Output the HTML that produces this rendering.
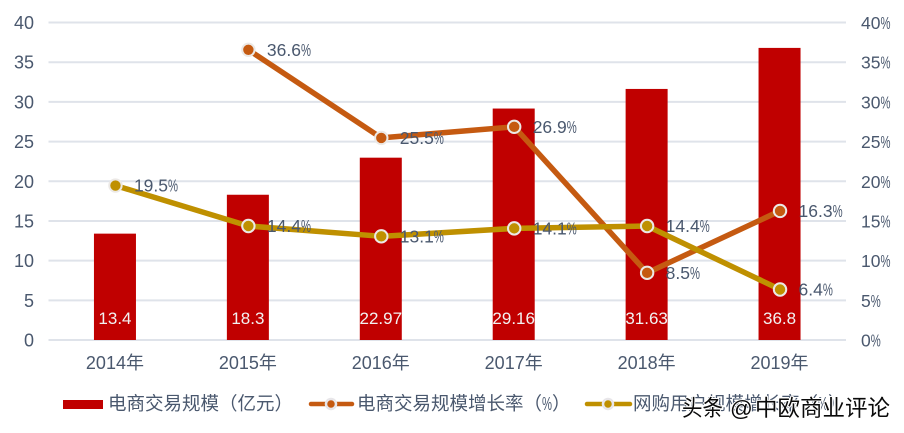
<!DOCTYPE html>
<html lang="zh">
<head>
<meta charset="utf-8">
<style>
html,body{margin:0;padding:0;background:#fff;width:904px;height:433px;overflow:hidden}
svg{display:block}
text{font-family:"Liberation Sans","Noto Sans CJK SC",sans-serif;fill:#4a586e}
</style>
</head>
<body>
<svg id="chart" width="904" height="433" viewBox="0 0 904 433" xmlns="http://www.w3.org/2000/svg">
  <g id="grid"></g>
  <g id="bars"></g>
  <g id="lines"></g>
  <g id="axes"></g>
  <g>
    <g>
      <rect x="63" y="400" width="40" height="9" fill="#c00000"/>
      <text x="108" y="410" font-size="18.5">电商交易规模（亿元）</text>
    </g>
    <g>
      <line x1="311" y1="404" x2="352" y2="404" stroke="#c55a11" stroke-width="4.5" stroke-linecap="round"/>
      <circle cx="331" cy="404" r="5" fill="#c55a11" stroke="#e8e6e9" stroke-width="2.5"/>
      <text x="357" y="410" font-size="18.5">电商交易规模增长率（<tspan textLength="10" lengthAdjust="spacingAndGlyphs">%</tspan>）</text>
    </g>
    <g>
      <line x1="587" y1="404" x2="630" y2="404" stroke="#bf9000" stroke-width="4.5" stroke-linecap="round"/>
      <circle cx="608" cy="404" r="5" fill="#bf9000" stroke="#e8e6e9" stroke-width="2.5"/>
      <text x="633" y="410" font-size="18.5">网购用户规模增长率（<tspan textLength="10" lengthAdjust="spacingAndGlyphs">%</tspan>）</text>
    </g>
  </g>
  <text y="416" font-size="22.5" style="fill:#0a0a0a;stroke:#fff;stroke-width:2px;paint-order:stroke;stroke-linejoin:round"><tspan x="682" textLength="41" lengthAdjust="spacingAndGlyphs">头条</tspan><tspan x="730">@</tspan><tspan x="755">中欧商业评论</tspan></text>
</svg>
<script>
const categories = ['2014年','2015年','2016年','2017年','2018年','2019年'];
const volume = [13.4,18.3,22.97,29.16,31.63,36.8];
const volumeGrowth = [null,36.6,25.5,26.9,8.5,16.3];
const onlineGrowth = [19.5,14.4,13.1,14.1,14.4,6.4];
const leftTicks = [0,5,10,15,20,25,30,35,40];
const rightTicks = [0,5,10,15,20,25,30,35,40];

const NS = 'http://www.w3.org/2000/svg';
const plotLeft = 48.5, plotRight = 846, plotBottom = 340, plotTop = 22.5;
const yLeft = v => plotBottom - (v / 40) * (plotBottom - plotTop);
const yRight = v => plotBottom - (v / 40) * (plotBottom - plotTop) + 0.3;
const band = (plotRight - plotLeft) / categories.length;
const xPos = i => plotLeft + band * (i + 0.5);

function make(tag, attrs, parent, content) {
  const el = document.createElementNS(NS, tag);
  for (const k in attrs) el.setAttribute(k, attrs[k]);
  if (content !== undefined) el.textContent = content;
  parent.appendChild(el);
  return el;
}
function pctLabel(parent, x, y, value, size, anchor, pctW) {
  const t = make('text', {x: x, y: y, 'font-size': size, 'text-anchor': anchor}, parent, value);
  make('tspan', {textLength: pctW, lengthAdjust: 'spacingAndGlyphs'}, t, '%');
  return t;
}

const gridG = document.getElementById('grid');
const barsG = document.getElementById('bars');
const linesG = document.getElementById('lines');
const axesG = document.getElementById('axes');

leftTicks.forEach(v => {
  const g = make('line', {x1: plotLeft, x2: plotRight, y1: yLeft(v), y2: yLeft(v), stroke: '#dfe3ea', 'stroke-width': 2}, gridG);
  
  
  const t = make('text', {x: 34, y: yLeft(v) + 6.5, 'font-size': 18, 'text-anchor': 'end'}, axesG, v);
  
  
});
rightTicks.forEach(v => {
  const t = pctLabel(axesG, 861, yRight(v) + 6.2, v, 17.5, 'start', 10);
  
  
});
categories.forEach((c, i) => {
  const t = make('text', {x: xPos(i), y: 369, 'font-size': 18, 'text-anchor': 'middle'}, axesG, c);
  
  
});

const barW = 42;
volume.forEach((v, i) => {
  const r = make('rect', {x: xPos(i) - barW / 2, y: yLeft(v), width: barW, height: plotBottom - yLeft(v), fill: '#c00000'}, barsG);
  
  
  const t = make('text', {x: xPos(i), y: 324, 'font-size': 17, 'text-anchor': 'middle', style: 'fill:#f2f2f2'}, barsG, v);
  
  
});

function drawSeries(values, color, name) {
  const pts = values.map((v, i) => v === null ? null : [xPos(i) + 0.5, yRight(v)]).filter(Boolean);
  const p = make('polyline', {points: pts.map(q => q.join(',')).join(' '), fill: 'none', stroke: color, 'stroke-width': 5.5, 'stroke-linejoin': 'round', 'stroke-linecap': 'round'}, linesG);
  
  
}
function drawMarks(values, color, name) {
  values.forEach((v, i) => {
    if (v === null) return;
    const c = make('circle', {cx: xPos(i) + 0.5, cy: yRight(v), r: 6.2, fill: color, stroke: '#ece9e6', 'stroke-width': 2}, linesG);
    
    
    const t = pctLabel(linesG, xPos(i) + 19, yRight(v) + 6.2, v.toFixed(1), 17.5, 'start', 10);
    
    
  });
}
drawSeries(volumeGrowth, '#c55a11', 'volume-growth');
drawSeries(onlineGrowth, '#bf9000', 'online-growth');
drawMarks(volumeGrowth, '#c55a11', 'volume-growth');
drawMarks(onlineGrowth, '#bf9000', 'online-growth');
</script>
</body>
</html>
